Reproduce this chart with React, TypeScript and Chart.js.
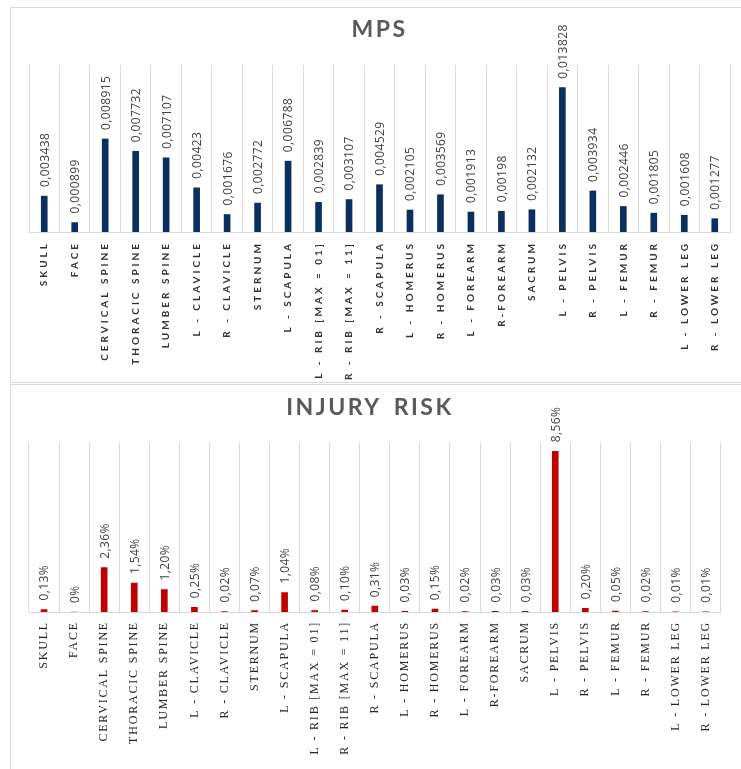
import React, { useEffect, useRef } from "react";
import { Chart, registerables } from "chart.js";

Chart.register(...registerables);

const categories = [
  "SKULL",
  "FACE",
  "CERVICAL SPINE",
  "THORACIC SPINE",
  "LUMBER SPINE",
  "L - CLAVICLE",
  "R - CLAVICLE",
  "STERNUM",
  "L - SCAPULA",
  "L - RIB [MAX = 01]",
  "R - RIB [MAX = 11]",
  "R - SCAPULA",
  "L - HOMERUS",
  "R - HOMERUS",
  "L - FOREARM",
  "R-FOREARM",
  "SACRUM",
  "L - PELVIS",
  "R - PELVIS",
  "L - FEMUR",
  "R - FEMUR",
  "L - LOWER LEG",
  "R - LOWER LEG",
];

const mpsValues = [
  0.003438, 0.000899, 0.008915, 0.007732, 0.007107, 0.00423, 0.001676, 0.002772,
  0.006788, 0.002839, 0.003107, 0.004529, 0.002105, 0.003569, 0.001913, 0.00198,
  0.002132, 0.013828, 0.003934, 0.002446, 0.001805, 0.001608, 0.001277,
];

// injury risk in percent
const riskValues = [
  0.13, 0, 2.36, 1.54, 1.2, 0.25, 0.02, 0.07, 1.04, 0.08, 0.1, 0.31, 0.03, 0.15,
  0.02, 0.03, 0.03, 8.56, 0.2, 0.05, 0.02, 0.01, 0.01,
];

const mpsLabels = mpsValues.map((v) => String(v).replace(".", ","));
const riskLabels = riskValues.map((v) =>
  v === 0 ? "0%" : v.toFixed(2).replace(".", ",") + "%"
);

const mpsMax = 0.016;
const riskMax = 9;

type PanelProps = {
  title: string;
  values: number[];
  labels: string[];
  color: string;
  yMax: number;
  width: number;
  height: number;
  padRight: number;
  axisHeight: number;
  titleFullSize: boolean;
  tickFont: { family: string; size: number; weight: string };
  tickColor: string;
  tickSpacing: string;
};

const TITLE_SIZE = 23;

function BarPanel(p: PanelProps) {
  const ref = useRef<HTMLCanvasElement | null>(null);
  useEffect(() => {
    const canvas = ref.current;
    if (!canvas) return;
    const ctx: any = canvas.getContext("2d");
    const desc = Object.getOwnPropertyDescriptor(
      CanvasRenderingContext2D.prototype,
      "font"
    ) as PropertyDescriptor;
    const state = { mode: "chart" };
    // Chrome resets letterSpacing whenever font is set; re-apply it.
    Object.defineProperty(ctx, "font", {
      configurable: true,
      get() {
        return desc.get!.call(this);
      },
      set(v: string) {
        desc.set!.call(this, v);
        if (state.mode === "labels") {
          this.letterSpacing = "0.4px";
          this.wordSpacing = "0px";
        } else if (v.indexOf(TITLE_SIZE + "px") >= 0) {
          this.letterSpacing = "2.5px";
          this.wordSpacing = "4px";
        } else {
          this.letterSpacing = p.tickSpacing;
          this.wordSpacing = "0px";
        }
      },
    });

    const valueLabelPlugin = {
      id: "valueLabels",
      afterDatasetsDraw(chart: any) {
        const c = chart.ctx;
        const meta = chart.getDatasetMeta(0);
        c.save();
        state.mode = "labels";
        c.font = "400 12px 'Open Sans', 'Noto Sans', sans-serif";
        c.fillStyle = "#404040";
        c.textAlign = "left";
        c.textBaseline = "middle";
        meta.data.forEach((bar: any, i: number) => {
          c.save();
          c.translate(bar.x + 1, bar.y - 9);
          c.rotate(-Math.PI / 2);
          c.fillText(p.labels[i], 0, 0);
          c.restore();
        });
        state.mode = "chart";
        c.restore();
      },
    };

    const chart = new Chart(canvas, {
      type: "bar",
      data: {
        labels: categories,
        datasets: [
          {
            data: p.values,
            backgroundColor: p.color,
            barThickness: 6,
          },
        ],
      },
      options: {
        responsive: false,
        animation: false,
        layout: { padding: { left: 0, right: p.padRight, top: 0, bottom: 0 } },
        plugins: {
          legend: { display: false },
          tooltip: { enabled: false },
          title: {
            display: true,
            text: p.title,
            fullSize: p.titleFullSize,
            color: "#595959",
            font: { family: "Lato, 'Open Sans', sans-serif", size: TITLE_SIZE, weight: "bold" },
            padding: { top: 8, bottom: 21.4 },
          },
        },
        scales: {
          x: {
            grid: {
              display: true,
              color: "#d9d9d9",
              lineWidth: 1,
              drawTicks: false,
              offset: true,
            },
            border: { display: true, color: "#d9d9d9", width: 1 },
            ticks: {
              autoSkip: false,
              minRotation: 90,
              maxRotation: 90,
              padding: 9,
              color: p.tickColor,
              font: p.tickFont as any,
            },
            afterFit: (axis: any) => {
              axis.height = p.axisHeight;
            },
          },
          y: {
            display: true,
            min: 0,
            max: p.yMax,
            grid: { display: false },
            border: { display: false },
            ticks: { display: false },
            afterFit: (axis: any) => {
              axis.width = 18;
            },
          },
        },
      },
      plugins: [valueLabelPlugin],
    });
    return () => {
      chart.destroy();
      delete ctx.font;
    };
  }, []);
  return <canvas ref={ref} width={p.width} height={p.height} style={{ display: "block" }} />;
}

export default function App() {
  return (
    <div
      style={{
        position: "fixed",
        left: 0,
        top: 0,
        width: 741,
        height: 769,
        overflow: "hidden",
        background: "#ffffff",
      }}
    >
      <div
        style={{
          position: "absolute",
          left: 10,
          top: 7,
          width: 760,
          height: 376,
          border: "1.5px solid #d9d9d9",
          boxSizing: "border-box",
        }}
      />
      <div
        style={{
          position: "absolute",
          left: 10,
          top: 384,
          width: 760,
          height: 420,
          border: "1.5px solid #d9d9d9",
          boxSizing: "border-box",
        }}
      />
      <div style={{ position: "absolute", left: 11, top: 8 }}>
        <BarPanel
          title="MPS"
          values={mpsValues}
          labels={mpsLabels}
          color="#0c2f5f"
          yMax={mpsMax}
          width={730}
          height={375}
          padRight={11}
          axisHeight={151}
          titleFullSize={false}
          tickFont={{ family: "Lato, 'Open Sans', sans-serif", size: 10, weight: "bold" }}
          tickColor="#333333"
          tickSpacing="3px"
        />
      </div>
      <div style={{ position: "absolute", left: 11, top: 386 }}>
        <BarPanel
          title="INJURY RISK"
          values={riskValues}
          labels={riskLabels}
          color="#c00000"
          yMax={riskMax}
          width={718}
          height={383}
          padRight={0}
          axisHeight={157}
          titleFullSize={true}
          tickFont={{ family: "'Liberation Serif', 'Times New Roman', serif", size: 12, weight: "normal" }}
          tickColor="#262626"
          tickSpacing="1.8px"
        />
      </div>
    </div>
  );
}
